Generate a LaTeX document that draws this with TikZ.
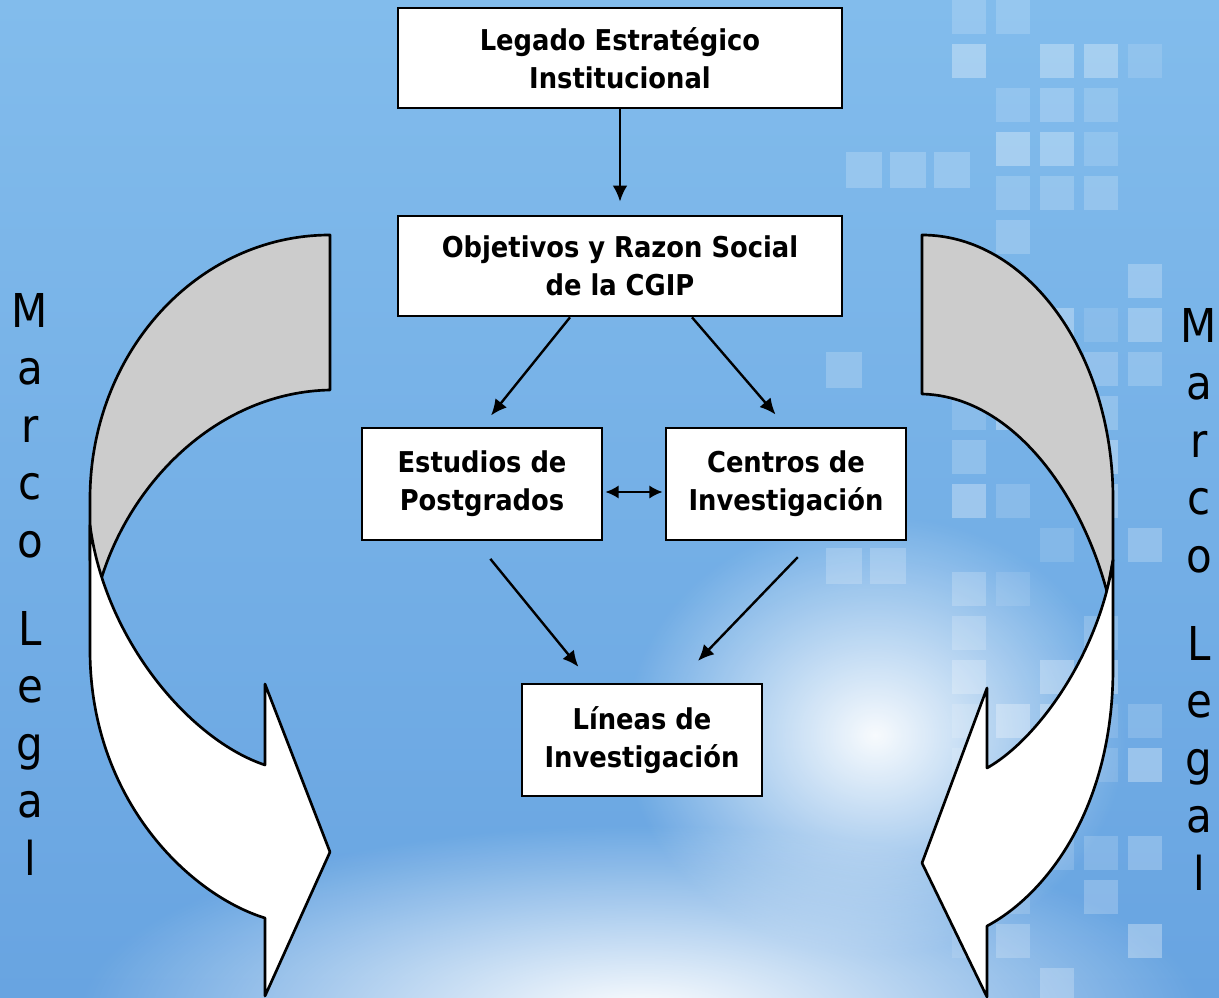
\documentclass[tikz,border=0pt]{standalone}
\usepackage{fontspec}
\setmainfont{DejaVu Sans Condensed}
\usetikzlibrary{arrows.meta, calc, fadings}

\tikzfading[name=glow, inner color=transparent!0, outer color=transparent!100]

\definecolor{bgtop}{RGB}{130,188,236}
\definecolor{bgbot}{RGB}{104,164,225}
\definecolor{backgray}{RGB}{204,204,204}

\begin{document}
\begin{tikzpicture}[x=0.75pt,y=-0.75pt]
\tikzset{
  box/.style={draw, line width=2pt, fill=white, align=center, inner sep=0pt,
    font=\bfseries\fontsize{21.5}{28.5}\selectfont},
  bigbox/.style={box, minimum width=333pt, minimum height=75pt},
  smallbox/.style={box, minimum width=180pt, minimum height=84pt},
  link/.style={line width=1.8pt, -{Latex[length=12pt,width=11pt]}},
  dbllink/.style={line width=1.8pt, {Latex[length=10pt,width=10pt]}-{Latex[length=10pt,width=10pt]}},
  ribbon/.style={line width=2pt, line join=round},
  letter/.style={font=\fontsize{35}{35}\selectfont, anchor=base, inner sep=0pt}
}

\useasboundingbox (0,0) rectangle (1219,998);
\shade[top color=bgtop, bottom color=bgbot] (0,0) rectangle (1219,998);
\fill[white, path fading=glow, opacity=0.95] (875,735) ellipse [x radius=250, y radius=220];
\fill[white, path fading=glow] (640,1015) ellipse [x radius=560, y radius=190];

\pgfmathsetseed{42}
\foreach \cx in {952,996,1040,1084,1128}{
  \foreach \cy in {0,44,...,990}{
    \pgfmathsetmacro{\op}{rnd<0.5 ? 0.1+0.22*rnd : 0}
    \fill[white, opacity=\op] (\cx,\cy) rectangle ++(34,34);
  }
}
\foreach \cx/\cy in {846/152,890/152,934/152,826/352,826/548,870/548}{
  \fill[white, opacity=0.2] (\cx,\cy) rectangle ++(36,36);
}

\filldraw[ribbon, fill=backgray] (330,235) .. controls (197,235) and (90,353) .. (90,499)
  -- (90,560) -- (100,583) .. controls (130,480) and (220,392) .. (330,390) -- cycle;
\filldraw[ribbon, fill=white] (90,525) -- (90,650) .. controls (90,800) and (190,895) .. (265,918)
  -- (265,996) -- (330,852) -- (265,684) -- (265,765) .. controls (190,740) and (105,640) .. (90,525) -- cycle;

\filldraw[ribbon, fill=backgray] (922,235) .. controls (1027,235) and (1113,353) .. (1113,499)
  -- (1113,560) -- (1107,592) .. controls (1080,490) and (1010,396) .. (922,394) -- cycle;
\filldraw[ribbon, fill=white] (1113,560) -- (1113,668) .. controls (1113,810) and (1045,895) .. (987,926)
  -- (987,997) -- (922,863) -- (987,688) -- (987,768) .. controls (1040,738) and (1100,650) .. (1113,560) -- cycle;

\node[bigbox] (leg) at (620,58) {Legado Estratégico\\Institucional};
\node[bigbox] (obj) at (620,266) {Objetivos y Razon Social\\de la CGIP};
\node[smallbox] (est) at (482,484) {Estudios de\\Postgrados};
\node[smallbox] (cen) at (786,484) {Centros de\\Investigación};
\node[smallbox] (lin) at (642,740) {Líneas de\\Investigación};

\draw[link, shorten >=9.75pt] (leg.south) -- (obj.north);
\draw[link, shorten >=10.8pt] ([xshift=-37.5pt]obj.south) -- (est.north);
\draw[link, shorten >=12pt] ([xshift=54pt]obj.south) -- (cen.north);
\draw[dbllink, shorten <=1.5pt, shorten >=1.5pt] ([yshift=-6pt]est.east) -- ([yshift=-6pt]cen.west);
\draw[link, shorten <=17pt, shorten >=15.3pt] ([xshift=-4.5pt]est.south) -- ([xshift=-38pt]lin.north);
\draw[link, shorten <=16.5pt, shorten >=22.7pt] ([xshift=20.25pt]cen.south) -- ([xshift=26.25pt]lin.north);

\foreach \ch/\yy [count=\i] in {M/327,a/384.5,r/442,c/499.5,o/557,L/645,e/702.5,g/760,a/817.5,l/875}{
  \node[letter] (mleft\i) at (30,\yy) {\ch};
  \node[letter] (mright\i) at (1199,\yy+15) {\ch};
}
\end{tikzpicture}
\end{document}
